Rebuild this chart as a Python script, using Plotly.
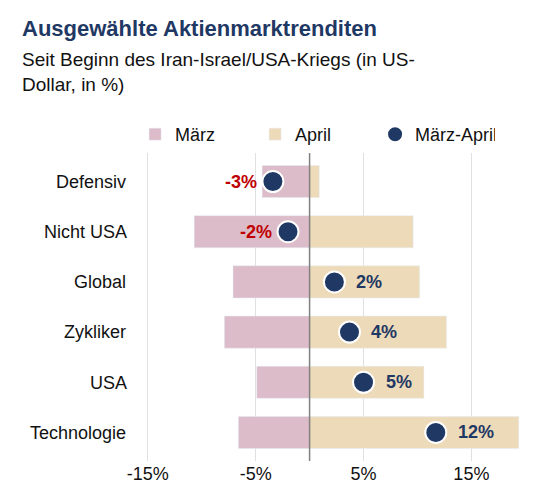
import plotly.graph_objects as go

categories = ["Defensiv", "Nicht USA", "Global", "Zykliker", "USA", "Technologie"]
maerz = [-4.4, -10.7, -7.1, -7.9, -4.9, -6.6]
april = [0.9, 9.6, 10.2, 12.7, 10.6, 19.4]
gesamt = [-3.4, -2.0, 2.3, 3.7, 5.0, 11.7]
labels = ["-3%", "-2%", "2%", "4%", "5%", "12%"]
tickvals = [-15, -5, 5, 15]
ticktext = ["-15%", "-5%", "5%", "15%"]

navy = "#1f3864"
fig = go.Figure()
fig.add_bar(y=categories, x=maerz, orientation="h", name="März",
            marker_color="#dcbcc8", width=0.64)
fig.add_bar(y=categories, x=april, orientation="h", name="April",
            marker_color="#eddab9", width=0.64)
fig.add_scatter(y=categories, x=gesamt, mode="markers", name="März-April",
                marker=dict(color=navy, size=21, line=dict(color="white", width=2)))

for c, v, t in zip(categories, gesamt, labels):
    neg = v < 0
    fig.add_annotation(x=v, y=c, text="<b>%s</b>" % t, showarrow=False,
                       xanchor="right" if neg else "left",
                       xshift=-14 if neg else 20,
                       font=dict(size=18, color="#c00000" if neg else navy, family="Arial"))

fig.add_annotation(xref="paper", yref="paper", x=-0.305, y=1.45, xanchor="left", yanchor="top",
                   text="<b>Ausgewählte Aktienmarktrenditen</b>", showarrow=False,
                   font=dict(size=22, color=navy, family="Arial"), align="left")
fig.add_annotation(xref="paper", yref="paper", x=-0.305, y=1.345, xanchor="left", yanchor="top",
                   text="Seit Beginn des Iran-Israel/USA-Kriegs (in US-<br>Dollar, in %)",
                   showarrow=False, font=dict(size=19, color="#111", family="Arial"), align="left")

fig.add_vline(x=0, line_color="#808080", line_width=1.5)

fig.update_layout(
    width=542, height=503, barmode="overlay",
    margin=dict(l=129, r=29, t=145, b=50),
    plot_bgcolor="white", paper_bgcolor="white",
    font=dict(family="Arial", size=18, color="#111"),
    legend=dict(orientation="h", x=-0.005, xanchor="left", y=1.0, yanchor="bottom",
                entrywidth=75, font=dict(size=18), traceorder="normal"),
    xaxis=dict(range=[-16, 19.6], tickvals=tickvals, ticktext=ticktext,
               showgrid=True, gridcolor="#e0e0e0", zeroline=False, ticks=""),
    yaxis=dict(autorange="reversed", showgrid=False, ticksuffix="  "),
    showlegend=True,
)
fig.write_html("out.html")
